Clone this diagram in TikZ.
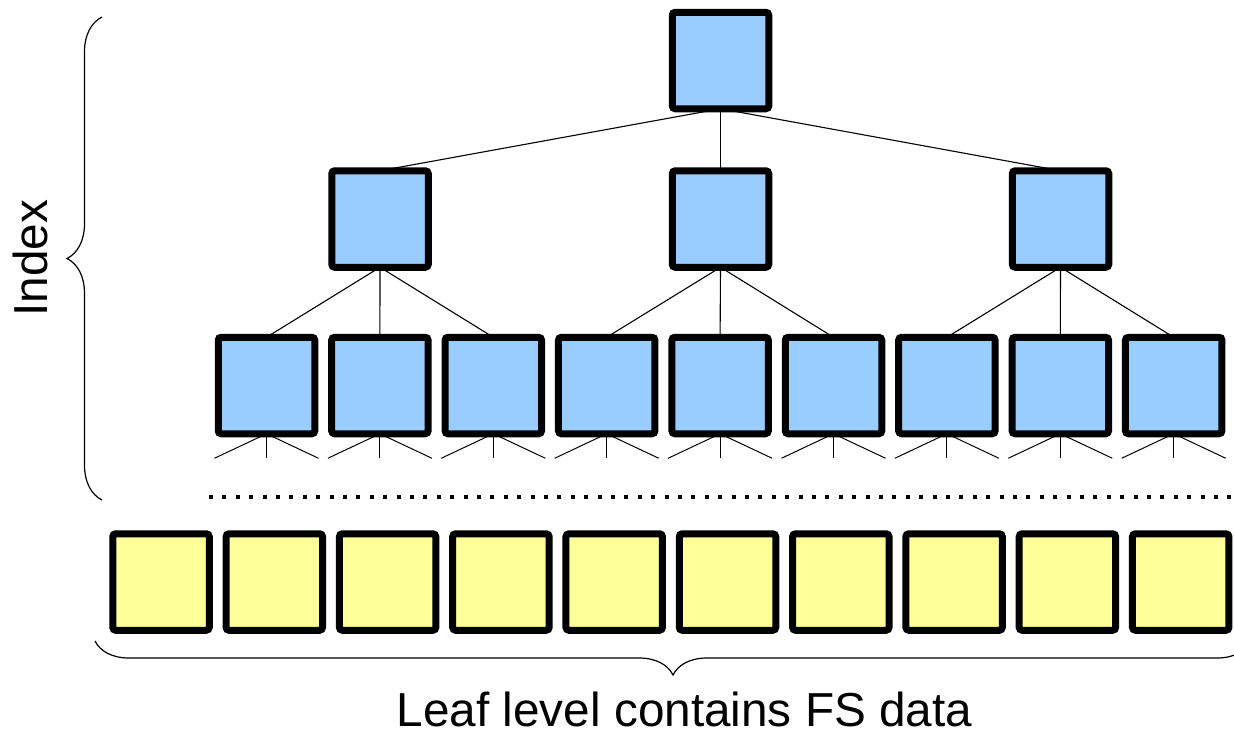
\documentclass[tikz,border=0pt]{standalone}
\usepackage{fontspec}
\setmainfont{Liberation Sans}
\usetikzlibrary{decorations.pathreplacing,calc}
\definecolor{idxblue}{HTML}{99CCFF}
\definecolor{leafyellow}{HTML}{FFFF99}
\begin{document}
\begin{tikzpicture}[x=1pt,y=-1pt,
  block/.style={draw=black,line width=7pt,rounded corners=3pt,minimum size=96.5pt,inner sep=0pt,outer sep=0pt},
  idx/.style={block,fill=idxblue},
  leaf/.style={block,fill=leafyellow},
  link/.style={draw=black,line width=1.1pt},
  fan/.style={draw=black,line width=1pt},
  bracket/.style={draw=black,line width=1.2pt,decorate,decoration={brace,amplitude=35pt}},
  label/.style={font=\fontsize{47.7}{57}\selectfont,inner sep=0pt,outer sep=0pt}]
\useasboundingbox (0,0) rectangle (1234,732);
\clip (0,0) rectangle (1234,732);

% root and second level
\node[idx] (root) at (720.5,60.5) {};
\node[idx] (m0) at (380,219) {};
\node[idx] (m1) at (720.5,219) {};
\node[idx] (m2) at (1060.5,219) {};

% third level of the index
\foreach \i in {0,...,8}
  \node[idx] (n\i) at ({266.5+113.4*\i},385.5) {};

% leaf level
\foreach \i in {0,...,9}
  \node[leaf] (f\i) at ({161+113.3*\i},582) {};

% links between index levels
\foreach \j in {0,1,2}
  \draw[link] (root.south) -- (m\j.north);
\foreach \j/\a/\b/\c in {0/0/1/2,1/3/4/5,2/6/7/8}{
  \draw[link] (m\j.south) -- (n\a.north);
  \draw[link] (m\j.south) -- (n\b.north);
  \draw[link] (m\j.south) -- (n\c.north);
}

% fan-out stubs below the third level
\foreach \i in {0,...,8}{
  \coordinate (sl\i) at ($(n\i.south)+(-52,24.5)$);
  \coordinate (sm\i) at ($(n\i.south)+(0,24.5)$);
  \coordinate (sr\i) at ($(n\i.south)+(52,24.5)$);
  \draw[fan] (n\i.south) -- (sl\i);
  \draw[fan] (n\i.south) -- (sm\i);
  \draw[fan] (n\i.south) -- (sr\i);
}

% elided levels
\coordinate (dotsA) at (209,497);
\coordinate (dotsB) at (1240,497);
\draw[line width=4pt,dash pattern=on 4pt off 9.4pt] (dotsA) -- (dotsB);

% braces and labels
\coordinate (bl0) at (102,500);
\coordinate (bl1) at (102,17);
\draw[bracket] (bl0) -- (bl1);
\node[label,rotate=90] (index) at (30,258) {Index};

\coordinate (bb0) at (1251,641);
\coordinate (bb1) at (95,641);
\draw[bracket,decoration={amplitude=34pt}] (bb0) -- (bb1);
\node[label,anchor=base] (leaflabel) at (684.5,726) {Leaf level contains FS data};
\end{tikzpicture}
\end{document}
